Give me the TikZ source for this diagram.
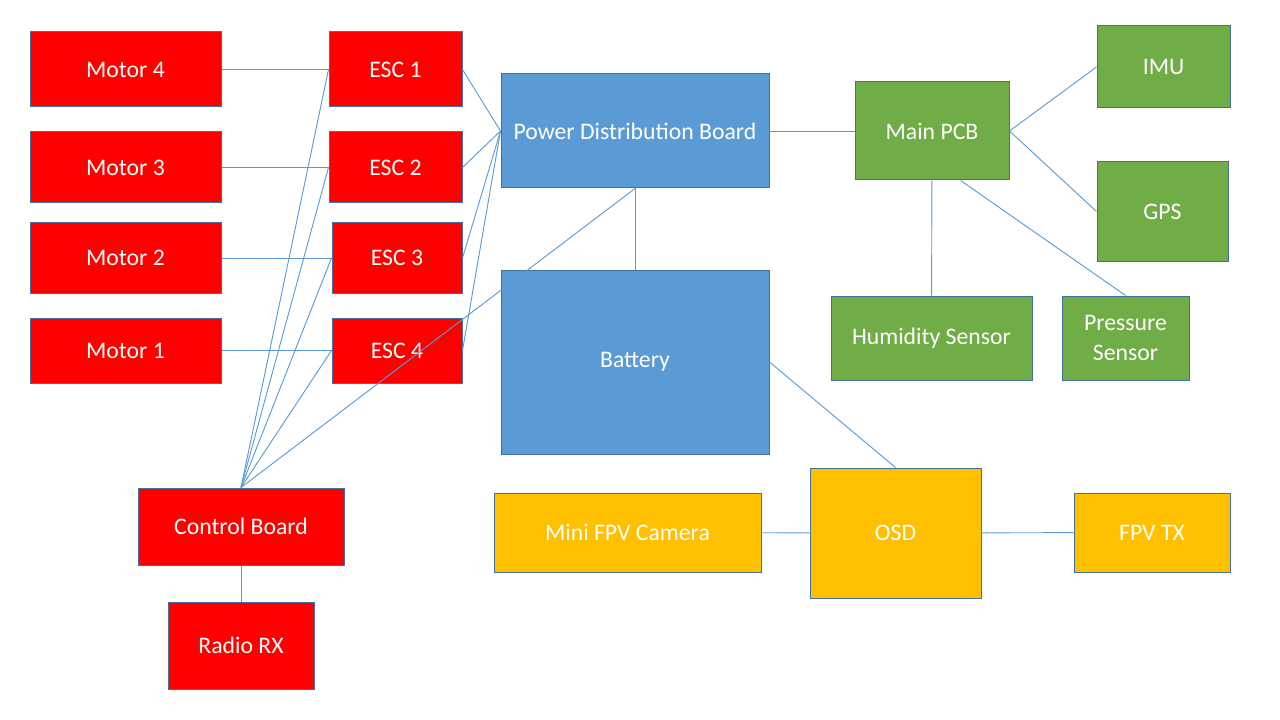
\documentclass[tikz,border=0pt]{standalone}
\usepackage{fontspec}
\setmainfont{Carlito}
\usepackage{tikz}
\definecolor{redbox}{HTML}{FF0000}
\definecolor{bluebox}{HTML}{5B9BD5}
\definecolor{greenbox}{HTML}{70AD47}
\definecolor{yellowbox}{HTML}{FFC000}
\definecolor{edge}{HTML}{41719C}
\definecolor{wire}{HTML}{5B9BD5}
\tikzset{blk/.style={draw=edge, line width=0.75pt, text=white, align=center,
    inner sep=0pt, font=\fontsize{17.8}{22}\selectfont},
  sz/.style 2 args={minimum width=#1*0.75pt, minimum height=#2*0.75pt},
  wire/.style={draw=wire, line width=0.7pt}}

\begin{document}
\begin{tikzpicture}[x=0.75pt, y=-0.75pt]
    \useasboundingbox (0, 0) rectangle (1280, 720);
    % motors and escs
    \node[blk, fill=redbox, sz={191}{75}] (mot4) at (125.5, 69.5) {Motor 4};
    \node[blk, fill=redbox, sz={191}{71}] (mot3) at (125.5, 167.5) {Motor 3};
    \node[blk, fill=redbox, sz={191}{70}] (mot2) at (125.5, 258) {Motor 2};
    \node[blk, fill=redbox, sz={191}{65}] (mot1) at (125.5, 350.5) {Motor 1};
    \node[blk, fill=redbox, sz={133}{75}] (esc1) at (395.5, 69.5) {ESC 1};
    \node[blk, fill=redbox, sz={133}{71}] (esc2) at (395.5, 167.5) {ESC 2};
    \node[blk, fill=redbox, sz={130}{70}] (esc3) at (397, 258) {ESC 3};
    \node[blk, fill=redbox, sz={130}{65}] (esc4) at (397, 350.5) {ESC 4};
    \node[blk, fill=redbox, sz={206}{77}] (ctrl) at (241, 526.5) {Control Board};
    \node[blk, fill=redbox, sz={146}{87}] (radio) at (241, 645.5) {Radio RX};
    % power
    \node[blk, fill=bluebox, sz={268}{114}] (pdb) at (635, 131) {Power Distribution Board};
    \node[blk, fill=bluebox, sz={268}{184}] (bat) at (635, 362) {Battery};
    % sensors
    \node[blk, fill=greenbox, sz={154}{98}] (pcb) at (932, 131) {Main PCB};
    \node[blk, fill=greenbox, sz={133}{82}] (imu) at (1163.5, 67) {IMU};
    \node[blk, fill=greenbox, sz={131}{99}] (gps) at (1162.5, 211.5) {GPS};
    \node[blk, fill=greenbox, sz={201}{84}] (hum) at (931.5, 338) {Humidity Sensor};
    \node[blk, fill=greenbox, sz={127}{84}] (pres) at (1125.5, 338) {Pressure\\Sensor};
    % video
    \node[blk, fill=yellowbox, sz={267}{79}] (cam) at (627.5, 532.5) {Mini FPV Camera};
    \node[blk, fill=yellowbox, sz={171}{130}] (osd) at (895.5, 533) {OSD};
    \node[blk, fill=yellowbox, sz={156}{79}] (tx) at (1152, 532.5) {FPV TX};
    % wires
    \draw[wire] (mot4) to (esc1);
    \draw[wire] (mot3) to (esc2);
    \draw[wire] (mot2) to (esc3);
    \draw[wire] (mot1) to (esc4);
    \foreach \e in {esc1, esc2, esc3, esc4} {
      \draw[wire] (\e.east) to (pdb.west);
      \draw[wire] (ctrl.north) to (\e.west);
    }
    \draw[wire] (ctrl.north) to (pdb.south);
    \draw[wire] (ctrl) to (radio);
    \draw[wire] (pdb) to (bat);
    \draw[wire] (pdb) to (pcb);
    \draw[wire] (pcb.east) to (imu.west);
    \draw[wire] (pcb.east) to (gps.west);
    \draw[wire] (pcb) to (hum);
    \draw[wire] (pcb.-60) to (pres.north);
    \draw[wire] (bat.east) to (osd.north);
    \draw[wire] (cam) to (osd);
    \draw[wire] (osd) to (tx);
  \end{tikzpicture}
\end{document}
